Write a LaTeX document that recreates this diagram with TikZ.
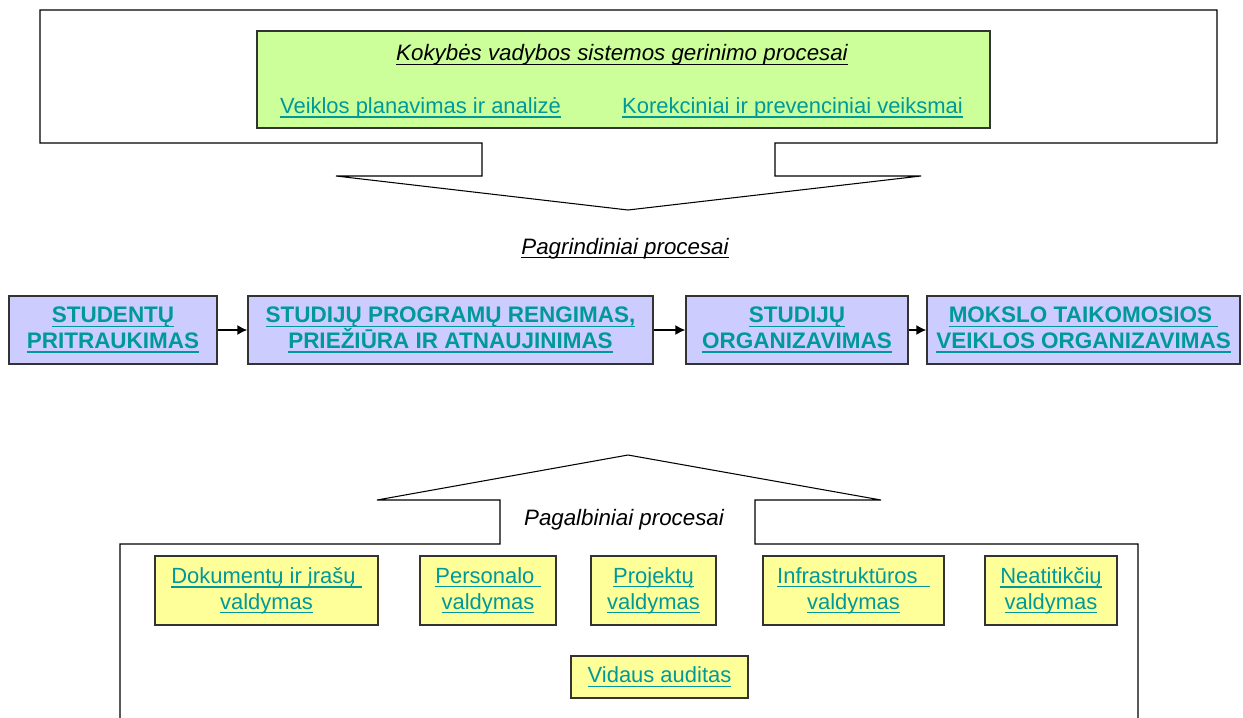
\documentclass[tikz,border=0pt]{standalone}
\usepackage{fontspec}
\setmainfont{Liberation Sans}
\usetikzlibrary{arrows.meta}
\definecolor{linkteal}{RGB}{0,153,153}
\definecolor{boxgreen}{RGB}{204,255,153}
\definecolor{boxblue}{RGB}{204,204,255}
\definecolor{boxyellow}{RGB}{255,255,153}
\newcommand{\uln}[1]{\leavevmode\hbox{\setbox0\hbox{#1}\rlap{\vrule height -1.6pt depth 2.4pt width \wd0}\box0}}
\newcommand{\lnk}[1]{\textcolor{linkteal}{\uln{#1}}}
\tikzset{
  mainproc/.style={draw=black!80, fill=boxblue, line width=0.8pt, minimum height=1.36cm,
    inner sep=0pt, align=center, font=\bfseries\fontsize{12.8}{14.7}\selectfont},
  supproc/.style={draw=black!80, fill=boxyellow, line width=0.8pt, minimum height=1.38cm,
    inner sep=0pt, align=center, font=\fontsize{12.5}{14.7}\selectfont},
  caption/.style={font=\itshape\fontsize{12.7}{14.7}\selectfont},
  flow/.style={-{Latex[length=2mm,width=2mm]}, line width=0.8pt}
}
\begin{document}
\begin{tikzpicture}
    \useasboundingbox (0,0) rectangle (24.86,-14.34);
    \clip (0,0) rectangle (24.86,-14.34);

    % quality improvement frame with arrow down
    \draw[line width=0.6pt] (0.8,-0.2)--(24.34,-0.2)--(24.34,-2.86)--(15.5,-2.86)--(15.5,-3.52)
      --(18.42,-3.52)--(12.56,-4.2)--(6.72,-3.52)--(9.64,-3.52)--(9.64,-2.86)--(0.8,-2.86)--cycle;
    \node[draw=black!80, fill=boxgreen, line width=0.8pt, minimum width=14.66cm, minimum height=1.94cm]
      (improve) at (12.47,-1.59) {};
    \node[caption] (improvetitle) at (12.44,-1.1) {\uln{Kokybės vadybos sistemos gerinimo procesai}};
    \node[font=\fontsize{12.5}{14.7}\selectfont] (planning) at (8.41,-2.16) {\lnk{Veiklos planavimas ir analizė}};
    \node[font=\fontsize{12.5}{14.7}\selectfont] (corrective) at (15.85,-2.16) {\lnk{Korekciniai ir prevenciniai veiksmai}};

    % main processes
    \node[caption] (maintitle) at (12.5,-4.97) {\uln{Pagrindiniai procesai}};
    \node[mainproc, minimum width=4.16cm] (students) at (2.26,-6.6) {\lnk{STUDENTŲ}\\\lnk{PRITRAUKIMAS}};
    \node[mainproc, minimum width=8.1cm] (programs) at (9.01,-6.6) {\lnk{STUDIJŲ PROGRAMŲ RENGIMAS,}\\\lnk{PRIEŽIŪRA IR ATNAUJINIMAS}};
    \node[mainproc, minimum width=4.44cm] (studies) at (15.94,-6.6) {\lnk{STUDIJŲ}\\\lnk{ORGANIZAVIMAS}};
    \node[mainproc, minimum width=6.26cm] (science) at (21.67,-6.6) {\lnk{MOKSLO TAIKOMOSIOS\ }\\\lnk{VEIKLOS ORGANIZAVIMAS}};
    \draw[flow] (students)--(programs);
    \draw[flow] (programs)--(studies);
    \draw[flow] (studies)--(science);

    % support processes frame with arrow up
    \draw[line width=0.6pt] (2.4,-15)--(2.4,-10.88)--(10.0,-10.88)--(10.0,-10.0)--(7.54,-10.0)
      --(12.56,-9.1)--(17.62,-10.0)--(15.1,-10.0)--(15.1,-10.88)--(22.76,-10.88)--(22.76,-15);
    \node[caption] (suptitle) at (12.48,-10.4) {Pagalbiniai procesai};
    \node[supproc, minimum width=4.46cm] (documents) at (5.33,-11.81) {\lnk{Dokumentų ir įrašų\ }\\\lnk{valdymas}};
    \node[supproc, minimum width=2.72cm] (staff) at (9.76,-11.81) {\lnk{Personalo\ }\\\lnk{valdymas}};
    \node[supproc, minimum width=2.5cm] (projects) at (13.07,-11.81) {\lnk{Projektų}\\\lnk{valdymas}};
    \node[supproc, minimum width=3.62cm] (infra) at (17.07,-11.81) {\lnk{Infrastruktūros\ \ }\\\lnk{valdymas}};
    \node[supproc, minimum width=2.64cm] (nonconf) at (21.02,-11.81) {\lnk{Neatitikčių}\\\lnk{valdymas}};
    \node[supproc, minimum width=3.54cm, minimum height=0.84cm] (audit) at (13.19,-13.54) {\lnk{Vidaus auditas}};
  \end{tikzpicture}
\end{document}
